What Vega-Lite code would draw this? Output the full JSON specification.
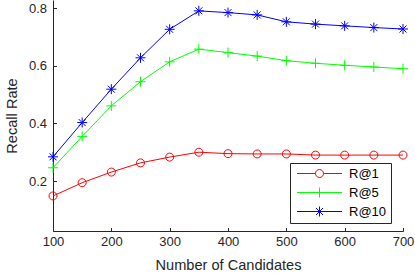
{
  "$schema": "https://vega.github.io/schema/vega-lite/v6.json",
  "width": 350,
  "height": 231,
  "autosize": {"type": "none"},
  "padding": {"left": 53, "top": 0, "right": 12, "bottom": 46},
  "background": "white",
  "config": {
    "view": {"stroke": null},
    "font": "Liberation Sans",
    "axis": {
      "domainColor": "#262626",
      "tickColor": "#262626",
      "labelColor": "#262626",
      "titleColor": "#262626",
      "labelFont": "Liberation Sans",
      "titleFont": "Liberation Sans",
      "labelFontSize": 13,
      "titleFontSize": 14.6,
      "titleFontWeight": "normal",
      "grid": false,
      "tickSize": -3.5,
      "domainWidth": 1,
      "tickWidth": 1
    }
  },
  "data": {
    "values": [
      {"n": 100, "series": "R@1", "v": 0.148},
      {"n": 150, "series": "R@1", "v": 0.194},
      {"n": 200, "series": "R@1", "v": 0.231},
      {"n": 250, "series": "R@1", "v": 0.263},
      {"n": 300, "series": "R@1", "v": 0.283},
      {"n": 350, "series": "R@1", "v": 0.300},
      {"n": 400, "series": "R@1", "v": 0.295},
      {"n": 450, "series": "R@1", "v": 0.294},
      {"n": 500, "series": "R@1", "v": 0.294},
      {"n": 550, "series": "R@1", "v": 0.290},
      {"n": 600, "series": "R@1", "v": 0.290},
      {"n": 650, "series": "R@1", "v": 0.290},
      {"n": 700, "series": "R@1", "v": 0.290},
      {"n": 100, "series": "R@5", "v": 0.246},
      {"n": 150, "series": "R@5", "v": 0.355},
      {"n": 200, "series": "R@5", "v": 0.461},
      {"n": 250, "series": "R@5", "v": 0.545},
      {"n": 300, "series": "R@5", "v": 0.614},
      {"n": 350, "series": "R@5", "v": 0.658},
      {"n": 400, "series": "R@5", "v": 0.646},
      {"n": 450, "series": "R@5", "v": 0.634},
      {"n": 500, "series": "R@5", "v": 0.618},
      {"n": 550, "series": "R@5", "v": 0.609},
      {"n": 600, "series": "R@5", "v": 0.602},
      {"n": 650, "series": "R@5", "v": 0.596},
      {"n": 700, "series": "R@5", "v": 0.590},
      {"n": 100, "series": "R@10", "v": 0.284},
      {"n": 150, "series": "R@10", "v": 0.403},
      {"n": 200, "series": "R@10", "v": 0.519},
      {"n": 250, "series": "R@10", "v": 0.628},
      {"n": 300, "series": "R@10", "v": 0.727},
      {"n": 350, "series": "R@10", "v": 0.791},
      {"n": 400, "series": "R@10", "v": 0.785},
      {"n": 450, "series": "R@10", "v": 0.777},
      {"n": 500, "series": "R@10", "v": 0.753},
      {"n": 550, "series": "R@10", "v": 0.745},
      {"n": 600, "series": "R@10", "v": 0.739},
      {"n": 650, "series": "R@10", "v": 0.733},
      {"n": 700, "series": "R@10", "v": 0.728}
    ]
  },
  "encoding": {
    "x": {
      "field": "n", "type": "quantitative",
      "scale": {"domain": [100, 700], "nice": false, "zero": false},
      "axis": {"values": [100, 200, 300, 400, 500, 600, 700], "title": "Number of Candidates", "labelPadding": 8, "titlePadding": 9, "labelFlush": false}
    },
    "y": {
      "field": "v", "type": "quantitative",
      "scale": {"domain": [0.0263, 0.8288], "nice": false, "zero": false},
      "axis": {"values": [0.2, 0.4, 0.6, 0.8], "format": ".1f", "title": "Recall Rate", "labelPadding": 10, "titlePadding": 9}
    }
  },
  "layer": [
    {
      "mark": {"type": "line", "strokeWidth": 1},
      "encoding": {
        "color": {"field": "series", "type": "nominal",
          "scale": {"domain": ["R@1", "R@5", "R@10"], "range": ["#ff0000", "#00ff00", "#0000ff"]},
          "legend": null}
      }
    },
    {
      "mark": {"type": "point", "filled": false, "size": 100, "strokeWidth": 1, "opacity": 1},
      "encoding": {
        "color": {"field": "series", "type": "nominal",
          "scale": {"domain": ["R@1", "R@5", "R@10"], "range": ["#ff0000", "#00ff00", "#0000ff"]},
          "legend": null},
        "shape": {"field": "series", "type": "nominal",
          "scale": {"domain": ["R@1", "R@5", "R@10"], "range": [
            "M-0.8,0A0.8,0.8 0 1,0 0.8,0A0.8,0.8 0 1,0 -0.8,0Z",
            "M-1,0H1M0,-1V1",
            "M-1,0H1M0,-1V1M-0.7,-0.7L0.7,0.7M-0.7,0.7L0.7,-0.7"
          ]},
          "legend": null}
      }
    },
    {
      "mark": {"type": "point", "filled": false, "size": 100, "strokeWidth": 1, "opacity": 0},
      "encoding": {
        "color": {"field": "series", "type": "nominal",
          "scale": {"domain": ["R@1", "R@5", "R@10"], "range": ["#ff0000", "#00ff00", "#0000ff"]},
          "legend": {
            "title": null, "orient": "none", "legendX": 237, "legendY": 163,
            "padding": 4, "strokeColor": "#262626", "fillColor": "white",
            "labelFontSize": 13, "labelFont": "Liberation Sans", "labelColor": "#000000",
            "labelOffset": 42, "rowPadding": 4, "symbolOpacity": 1, "symbolStrokeWidth": 1, "symbolSize": 100
          }},
        "shape": {"field": "series", "type": "nominal",
          "scale": {"domain": ["R@1", "R@5", "R@10"], "range": [
            "M-0.7,0H3M4.6,0H8.3M3,0A0.8,0.8 0 1,0 4.6,0A0.8,0.8 0 1,0 3,0Z",
            "M-0.7,0H8.3M3.8,-1V1",
            "M-0.7,0H8.3M3.8,-1V1M3.1,-0.7L4.5,0.7M3.1,0.7L4.5,-0.7"
          ]},
          "legend": {
            "title": null, "orient": "none", "legendX": 237, "legendY": 163,
            "padding": 4, "strokeColor": "#262626", "fillColor": "white",
            "labelFontSize": 13, "labelFont": "Liberation Sans", "labelColor": "#000000",
            "labelOffset": 42, "rowPadding": 4, "symbolOpacity": 1, "symbolStrokeWidth": 1, "symbolSize": 100
          }}
      }
    }
  ],
  "resolve": {
    "scale": {"color": "independent", "shape": "independent"},
    "legend": {"color": "independent", "shape": "independent"}
  }
}
